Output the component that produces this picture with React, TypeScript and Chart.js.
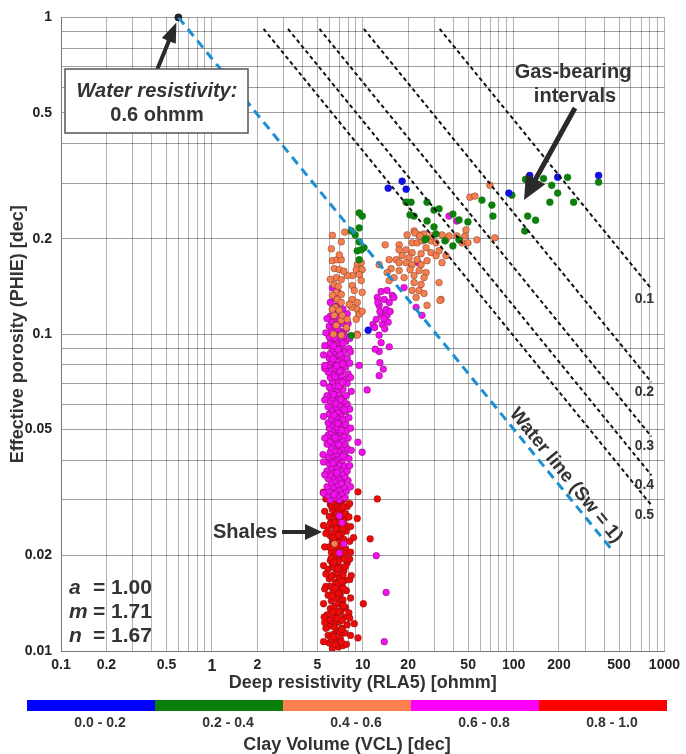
import { useEffect, useRef } from "react";
import { Chart, registerables } from "chart.js";

Chart.register(...registerables);

const FONT = "'Liberation Sans', Arial, Helvetica, sans-serif";

// Axis ticks
const xTickValues = [0.1, 0.2, 0.3, 0.4, 0.5, 0.6, 0.7, 0.8, 0.9, 1, 2, 3, 4, 5, 6, 7, 8, 9, 10, 20, 30, 40, 50, 60, 70, 80, 90, 100, 200, 300, 400, 500, 600, 700, 800, 900, 1000];
const xTickLabels = ["0.1", "0.2", "0.5", "1", "2", "5", "10", "20", "50", "100", "200", "500", "1000"];
const yTickValues = [0.01, 0.02, 0.03, 0.04, 0.05, 0.06, 0.07, 0.08, 0.09, 0.1, 0.2, 0.3, 0.4, 0.5, 0.6, 0.7, 0.8, 0.9, 1];
const yTickLabels = ["0.01", "0.02", "0.05", "0.1", "0.2", "0.5", "1"];

// Clay volume classes
const vclClasses = ["0.0 - 0.2", "0.2 - 0.4", "0.4 - 0.6", "0.6 - 0.8", "0.8 - 1.0"];
const vclColors = ["#0000ff", "#0a7d0a", "#ff7f50", "#ff00ff", "#ff0000"];
const pointColors = ["#1010e0", "#0d7f0d", "#f5804f", "#f010f0", "#ee0a0a"];

// Archie parameters
const archieA = 1.0;
const archieM = 1.71;
const archieN = 1.67;
const waterResistivity = 0.6;

// Pickett lines (endpoints: [Rt, PHIE])
const waterLine: [number, number][] = [[0.6, 1.0], [443.8, 0.021]];
const swValues = ["0.1", "0.2", "0.3", "0.4", "0.5"];
const swLines: [number, number][][] = [
  [[32.36, 0.92], [820, 0.139]],
  [[10.17, 0.92], [820, 0.0706]],
  [[5.168, 0.92], [820, 0.04752]],
  [[3.196, 0.92], [820, 0.03587]],
  [[2.202, 0.92], [820, 0.02885]],
];

// Data points [Deep resistivity RLA5, PHIE]
const bluePts: [number, number][] = [
  [18.25, 0.304], [14.75, 0.289], [19.4, 0.287], [10.87, 0.1029], [128, 0.317], [196, 0.313], [366, 0.317], [93, 0.279],
];

const greenPts: [number, number][] = [
  [9.48, 0.2413], [9.93, 0.236], [9.48, 0.2165], [8.39, 0.2118], [8.92, 0.2058], [9.48, 0.1957], [9.2, 0.1833],
  [9.78, 0.1847], [10.2, 0.1875], [9.48, 0.1718], [8.4, 0.099],
  [19.4, 0.261], [20.9, 0.261], [21.9, 0.236], [20.6, 0.238], [26.7, 0.261], [29.7, 0.2465], [32.1, 0.2488],
  [26.7, 0.2277], [29.7, 0.2181], [30.6, 0.2073], [26.3, 0.2], [39.6, 0.19], [39.6, 0.2395], [43.5, 0.2295],
  [49.8, 0.2261], [43.5, 0.1985], [35.1, 0.1971], [25.9, 0.1985], [61.7, 0.265], [71.8, 0.2556], [72.9, 0.236],
  [97.4, 0.2747], [118.7, 0.2118], [124, 0.236], [140, 0.229], [120, 0.308], [158, 0.31], [179, 0.295],
  [196, 0.279], [174, 0.261], [228, 0.3127], [250, 0.261], [366, 0.302],
];

const orangePts: [number, number][] = [
  [14.09, 0.1915], [17.43, 0.1915], [19.69, 0.2058], [21.9, 0.2118], [23.64, 0.2058], [25.51, 0.2073], [17.43, 0.1847],
  [19.39, 0.1847], [21.25, 0.1943], [22.93, 0.1943], [24.74, 0.1971], [28.38, 0.1971], [21.25, 0.1808], [24.37, 0.1795],
  [22.93, 0.1719], [20.3, 0.1744], [18.25, 0.1769], [16.66, 0.1719], [14.97, 0.1719], [17.43, 0.1682], [19.39, 0.1682],
  [21.25, 0.1658], [24.37, 0.1658], [26.7, 0.1706], [28.38, 0.1808], [30.62, 0.1769], [32.06, 0.1834], [35.66, 0.1985],
  [33.55, 0.1682], [15.43, 0.1611], [17.43, 0.1588], [20.61, 0.1599], [23.64, 0.1588], [26.3, 0.1565], [12.86, 0.1658],
  [14.52, 0.1565], [16.16, 0.1509], [14.97, 0.1477], [18.81, 0.1509], [21.9, 0.1531], [25.51, 0.1509], [21.9, 0.1455],
  [24.37, 0.1435], [21.25, 0.1374], [23.64, 0.1374], [25.51, 0.1345], [22.58, 0.1306], [32.06, 0.1455], [33.04, 0.1287],
  [30.62, 0.1943], [28.81, 0.2043], [26.3, 0.1874], [35.66, 0.1769], [26.7, 0.1233], [32.55, 0.1278], [51.37, 0.2708],
  [55.44, 0.2728], [69.66, 0.2953], [22.24, 0.2088], [24.0, 0.2043], [33.55, 0.2058], [37.33, 0.2043], [47.62, 0.2043],
  [45.5, 0.1943], [57.15, 0.1985], [75.16, 0.2014], [48.35, 0.2134], [42.15, 0.2043], [49.84, 0.1943],
  [6.29, 0.1706], [6.78, 0.1719], [7.21, 0.1719], [6.48, 0.1611], [6.99, 0.1599], [6.68, 0.1509], [7.21, 0.1487],
  [6.48, 0.1435], [6.89, 0.1414], [6.68, 0.1355], [7.21, 0.1335], [6.29, 0.1326], [6.78, 0.1287], [7.21, 0.126],
  [6.58, 0.1216], [6.99, 0.1189], [6.48, 0.1147], [7.21, 0.1106], [6.68, 0.1067], [7.21, 0.1957], [6.29, 0.1198],
  [7.32, 0.1147], [9.2, 0.1658], [9.77, 0.1682], [9.06, 0.1599], [9.92, 0.1599], [9.48, 0.1542], [8.52, 0.1531],
  [7.9, 0.1531], [9.77, 0.1477], [8.52, 0.1424], [9.92, 0.1355], [8.79, 0.1374], [8.52, 0.1287], [9.2, 0.126],
  [8.52, 0.1216], [9.2, 0.1198], [8.14, 0.1242], [9.48, 0.1156], [9.06, 0.1114], [9.2, 0.1], [7.9, 0.1114],
  [9.92, 0.1181], [7.21, 0.0993], [9.2, 0.0993], [6.3, 0.205], [7.6, 0.21], [6.2, 0.186], [7.0, 0.178], [6.4, 0.1],
  [7.8, 0.105], [6.1, 0.149], [7.5, 0.158], [6.5, 0.0218],
];

const magentaPts: [number, number][] = [
  [6.1, 0.03], [7.0, 0.03], [6.6, 0.0305], [7.6, 0.0305], [5.9, 0.031], [6.8, 0.031], [7.3, 0.0315], [6.3, 0.0315],
  [6.0, 0.032], [7.8, 0.032], [6.7, 0.032], [7.1, 0.0325], [6.4, 0.033], [5.8, 0.033], [7.5, 0.033], [6.9, 0.0335],
  [6.2, 0.034], [7.3, 0.034], [6.6, 0.0345], [8.0, 0.0345], [5.9, 0.035], [7.0, 0.035], [6.4, 0.0355], [7.6, 0.0355],
  [6.8, 0.036], [6.1, 0.036], [7.3, 0.0365], [5.8, 0.037], [6.5, 0.037], [7.9, 0.037], [7.1, 0.0375], [6.2, 0.038],
  [6.8, 0.038], [7.5, 0.0385], [6.0, 0.039], [7.0, 0.039], [6.5, 0.0395], [7.3, 0.04], [6.2, 0.04], [6.8, 0.0405],
  [8.1, 0.0405], [5.9, 0.041], [7.1, 0.041], [6.4, 0.0415], [7.6, 0.042], [6.7, 0.042], [6.1, 0.0425], [7.0, 0.043],
  [6.5, 0.043], [7.9, 0.0435], [6.2, 0.044], [7.3, 0.044], [6.8, 0.0445], [5.8, 0.045], [7.6, 0.045], [6.4, 0.0455],
  [7.0, 0.0455], [6.1, 0.046], [7.3, 0.0465], [6.7, 0.0465], [8.0, 0.047], [6.3, 0.0475], [6.9, 0.0475], [5.9, 0.048],
  [7.5, 0.048], [6.6, 0.0485], [7.1, 0.049], [6.2, 0.049], [7.8, 0.0495], [6.5, 0.05], [6.9, 0.05], [6.0, 0.0505],
  [7.3, 0.051], [6.7, 0.051], [6.3, 0.052], [7.7, 0.052], [5.9, 0.0525], [7.0, 0.053], [6.6, 0.053], [6.2, 0.054],
  [7.4, 0.054], [8.1, 0.0545], [6.8, 0.055], [6.0, 0.056], [7.2, 0.056], [6.5, 0.0565], [7.7, 0.057], [6.9, 0.057],
  [6.2, 0.058], [7.3, 0.0585], [5.9, 0.059], [6.7, 0.059], [7.0, 0.06], [7.9, 0.06], [6.4, 0.061], [6.1, 0.0615],
  [7.5, 0.0615], [6.8, 0.062], [7.2, 0.063], [6.3, 0.063], [5.8, 0.064], [7.8, 0.064], [6.6, 0.065], [7.0, 0.065],
  [6.2, 0.066], [7.4, 0.067], [6.8, 0.067], [6.0, 0.068], [7.1, 0.069], [6.5, 0.069], [7.9, 0.07], [6.3, 0.071],
  [6.9, 0.071], [7.5, 0.072], [6.1, 0.073], [6.7, 0.073], [7.2, 0.074], [6.4, 0.075], [8.0, 0.075], [5.9, 0.076],
  [6.9, 0.076], [7.3, 0.077], [6.2, 0.078], [6.6, 0.078], [7.7, 0.079], [6.0, 0.08], [7.0, 0.08], [6.5, 0.081],
  [7.4, 0.082], [6.2, 0.082], [6.8, 0.083], [7.9, 0.084], [6.0, 0.084], [6.5, 0.085], [7.2, 0.085], [6.8, 0.086],
  [6.1, 0.087], [7.5, 0.088], [6.6, 0.088], [7.0, 0.089], [6.3, 0.09], [8.1, 0.09], [6.8, 0.091], [5.9, 0.092],
  [7.3, 0.092], [6.5, 0.093], [7.0, 0.094], [6.1, 0.094], [7.7, 0.095], [6.7, 0.096], [6.3, 0.097], [7.2, 0.097],
  [6.0, 0.098], [6.9, 0.099], [7.6, 0.099], [6.5, 0.1], [6.2, 0.102], [7.1, 0.102], [6.8, 0.104], [7.8, 0.104],
  [6.0, 0.106], [6.5, 0.106], [7.3, 0.108], [6.2, 0.11], [6.9, 0.11], [7.6, 0.112], [6.5, 0.114], [6.1, 0.114],
  [7.1, 0.116], [6.8, 0.118], [6.3, 0.12], [7.4, 0.12], [6.7, 0.123], [6.1, 0.126], [7.0, 0.126], [6.5, 0.13],
  [6.9, 0.135], [6.3, 0.14],
  [5.5, 0.0315], [8.3, 0.033], [5.6, 0.036], [8.2, 0.0385], [5.5, 0.0395], [8.4, 0.043], [5.6, 0.047], [8.3, 0.0505],
  [5.5, 0.055], [8.2, 0.058], [5.6, 0.062], [8.4, 0.066], [5.5, 0.07], [8.3, 0.073], [5.6, 0.078], [8.2, 0.081],
  [5.5, 0.086], [8.3, 0.088], [5.6, 0.092], [8.2, 0.097], [5.7, 0.101], [8.0, 0.108], [5.8, 0.112], [7.9, 0.116],
  [6.45, 0.0312], [7.2, 0.0338], [6.75, 0.0365], [6.35, 0.0392], [7.45, 0.0412], [6.95, 0.0448], [6.55, 0.0472],
  [7.25, 0.0498], [6.85, 0.0522], [6.45, 0.0555], [7.55, 0.0578], [6.65, 0.0605], [7.15, 0.0622], [6.4, 0.0645],
  [6.95, 0.0685], [7.35, 0.0705], [6.55, 0.0735], [7.05, 0.0765], [6.75, 0.0795], [7.35, 0.0805], [6.35, 0.0835],
  [7.05, 0.0865], [6.85, 0.0895], [6.4, 0.0918], [7.4, 0.0935], [6.55, 0.0975], [7.25, 0.1005], [6.7, 0.107],
  [7.0, 0.113], [6.6, 0.121],
  [5.6, 0.0797], [5.46, 0.0417], [9.48, 0.0797], [9.3, 0.0456], [9.92, 0.0424], [10.7, 0.0667], [15.0, 0.0912],
  [13.25, 0.094], [12.86, 0.0882], [13.0, 0.0813], [13.7, 0.0776], [12.86, 0.074],
  [13.25, 0.1364], [14.5, 0.1374], [15.7, 0.1325], [12.5, 0.1306], [13.9, 0.1288], [12.85, 0.1233], [15.0, 0.126],
  [14.3, 0.1197], [13.25, 0.1155], [12.3, 0.1114], [14.5, 0.1147], [13.5, 0.1074], [11.7, 0.1074], [12.85, 0.0993],
  [14.75, 0.1091], [16.1, 0.1306], [18.8, 0.1403], [22.6, 0.1216], [24.7, 0.1147], [23.3, 0.168], [12.1, 0.0897],
  [13.0, 0.118], [14.0, 0.104], [12.0, 0.105], [15.2, 0.118], [13.8, 0.112], [12.6, 0.126],
  [37.3, 0.236], [42, 0.2277],
  [7.3, 0.0254], [7.5, 0.0218], [7.0, 0.0204], [7.0, 0.0267], [12.3, 0.02], [14.3, 0.0153], [13.9, 0.0107],
];

const redPts: [number, number][] = [
  [6.3, 0.0102], [6.9, 0.0103], [7.4, 0.0104], [6.0, 0.0106], [7.8, 0.0105], [6.6, 0.0108], [7.1, 0.011], [5.9, 0.0112],
  [6.4, 0.0113], [7.6, 0.0114], [6.8, 0.0116], [7.3, 0.0118], [6.1, 0.012], [6.6, 0.0122], [7.9, 0.0121], [7.0, 0.0124],
  [6.3, 0.0127], [7.5, 0.0128], [5.8, 0.013], [6.8, 0.0131], [7.2, 0.0134], [6.1, 0.0136], [6.5, 0.0138], [7.7, 0.0137],
  [6.9, 0.0141], [6.2, 0.0144], [7.4, 0.0145], [6.7, 0.0147], [5.9, 0.015], [7.1, 0.0151], [6.4, 0.0154], [7.8, 0.0155],
  [6.9, 0.0158], [6.1, 0.016], [7.3, 0.0162], [6.6, 0.0165], [7.6, 0.0167], [6.0, 0.0169], [7.0, 0.0171], [6.4, 0.0174],
  [6.8, 0.0177], [7.5, 0.0179], [5.9, 0.0181], [7.2, 0.0184], [6.3, 0.0186], [6.7, 0.0189], [7.9, 0.019], [6.1, 0.0193],
  [7.0, 0.0196], [6.5, 0.0199], [7.4, 0.0201], [6.2, 0.0205], [6.9, 0.0208], [7.7, 0.021], [6.0, 0.0213], [6.6, 0.0216],
  [7.2, 0.0219], [6.3, 0.0222], [7.5, 0.0225], [6.8, 0.0228], [6.1, 0.0231], [7.1, 0.0234], [6.5, 0.0237], [7.8, 0.0239],
  [5.9, 0.0242], [6.9, 0.0245], [6.4, 0.0249], [7.3, 0.0252], [6.2, 0.0256], [6.7, 0.0259], [7.6, 0.0262], [6.0, 0.0266],
  [7.0, 0.0269], [6.5, 0.0273], [7.4, 0.0276], [6.3, 0.028], [6.8, 0.0284], [7.9, 0.0286], [6.1, 0.029], [7.2, 0.0293],
  [6.6, 0.0297], [7.5, 0.0301], [6.4, 0.0305], [6.9, 0.0309], [7.1, 0.0314], [6.2, 0.0318],
  [6.6, 0.0105], [7.2, 0.0107], [6.2, 0.0109], [7.0, 0.0115], [6.5, 0.0119], [7.3, 0.0125], [6.0, 0.0125], [6.9, 0.0133],
  [7.3, 0.014], [6.3, 0.0149], [7.5, 0.0157], [6.8, 0.0163], [6.2, 0.0172], [7.4, 0.0173], [6.5, 0.0183], [7.7, 0.0185],
  [6.9, 0.0192], [6.2, 0.0197], [7.6, 0.0203], [6.7, 0.0211], [7.0, 0.022], [6.4, 0.0228], [7.3, 0.0236], [6.7, 0.0243],
  [7.6, 0.025], [6.1, 0.0253], [7.1, 0.0261], [6.6, 0.0267], [7.7, 0.0271], [6.9, 0.0277], [6.2, 0.0287], [7.0, 0.0299],
  [6.6, 0.031], [7.3, 0.032], [5.7, 0.0118], [8.1, 0.0132], [5.7, 0.0175], [8.2, 0.0195], [5.7, 0.0235], [8.1, 0.0265],
  [5.5, 0.0107], [8.3, 0.0112], [5.6, 0.0123], [8.2, 0.0127], [5.5, 0.0141], [8.3, 0.0147], [5.7, 0.016], [8.2, 0.0168],
  [5.5, 0.0186], [8.3, 0.0205], [5.6, 0.0213], [8.2, 0.0222], [5.5, 0.0249], [8.3, 0.0247], [5.6, 0.0276], [8.2, 0.0292],
  [5.7, 0.0302],
  [6.45, 0.0111], [7.25, 0.0117], [6.75, 0.0127], [6.35, 0.0133], [7.45, 0.0139], [6.95, 0.0152], [6.55, 0.0158],
  [7.25, 0.0166], [6.85, 0.0182], [6.45, 0.0191], [7.55, 0.0195], [6.65, 0.0204], [7.15, 0.0214], [6.4, 0.0218],
  [6.95, 0.0232], [7.35, 0.0244], [6.55, 0.0255], [7.05, 0.0256], [6.75, 0.0271], [7.35, 0.0285], [6.35, 0.0295],
  [7.05, 0.0312],
  [9.3, 0.0318], [12.5, 0.0302], [9.2, 0.0262], [11.2, 0.0226], [8.7, 0.0228], [10.1, 0.0141], [9.3, 0.011], [8.8, 0.0122],
  [8.4, 0.0173], [5.48, 0.0317], [5.6, 0.0157], [5.55, 0.0128],
];

const classPoints = [bluePts, greenPts, orangePts, magentaPts, redPts];

function drawArrow(ctx: CanvasRenderingContext2D, x1: number, y1: number, x2: number, y2: number, shaftW: number, headLen: number, headW: number) {
  const ang = Math.atan2(y2 - y1, x2 - x1);
  const L = Math.hypot(x2 - x1, y2 - y1);
  ctx.save();
  ctx.translate(x2, y2);
  ctx.rotate(ang);
  ctx.beginPath();
  ctx.moveTo(-L, -shaftW / 2);
  ctx.lineTo(-headLen, -shaftW / 2);
  ctx.lineTo(-headLen, -headW / 2);
  ctx.lineTo(0, 0);
  ctx.lineTo(-headLen, headW / 2);
  ctx.lineTo(-headLen, shaftW / 2);
  ctx.lineTo(-L, shaftW / 2);
  ctx.closePath();
  ctx.fill();
  ctx.restore();
}

const annotationPlugin = {
  id: "pickettAnnotations",
  afterDatasetsDraw(chart: any) {
    const ctx: CanvasRenderingContext2D = chart.ctx;
    const xs = chart.scales.x;
    const ys = chart.scales.y;
    const area = chart.chartArea;
    ctx.save();

    // Rw arrow and text box
    const dotX = xs.getPixelForValue(waterLine[0][0]);
    const dotY = ys.getPixelForValue(waterLine[0][1]);
    ctx.fillStyle = "#2a2a2a";
    drawArrow(ctx, 157, 70, dotX - 2, dotY + 5, 4, 20, 15);
    ctx.fillStyle = "#ffffff";
    ctx.fillRect(65, 69, 183, 64);
    ctx.strokeStyle = "#555";
    ctx.lineWidth = 1.5;
    ctx.strokeRect(65, 69, 183, 64);
    ctx.fillStyle = "#333";
    ctx.textAlign = "center";
    ctx.textBaseline = "middle";
    ctx.font = `italic bold 20px ${FONT}`;
    ctx.fillText("Water resistivity:", 157, 91);
    ctx.font = `bold 20px ${FONT}`;
    ctx.fillText(`${waterResistivity} ohmm`, 157, 115);

    // Gas-bearing
    ctx.font = `bold 20px ${FONT}`;
    ctx.fillText("Gas-bearing", 573, 72);
    ctx.fillText("intervals", 575, 96);
    ctx.fillStyle = "#2a2a2a";
    drawArrow(ctx, 575, 108, 524, 200, 5, 24, 22);

    // Shales
    ctx.fillStyle = "#333";
    ctx.textAlign = "left";
    ctx.font = `bold 20px ${FONT}`;
    ctx.fillText("Shales", 213, 532);
    ctx.fillStyle = "#2a2a2a";
    drawArrow(ctx, 282, 532, 322, 532, 4, 17, 16);

    // Archie parameters
    ctx.fillStyle = "#333";
    ctx.textBaseline = "alphabetic";
    const params: [string, number][] = [["a", archieA], ["m", archieM], ["n", archieN]];
    params.forEach(([k, v], i) => {
      const by = 594 + i * 24;
      ctx.font = `italic bold 21px ${FONT}`;
      ctx.fillText(k, 69, by);
      ctx.font = `bold 21px ${FONT}`;
      ctx.fillText(`= ${v.toFixed(2)}`, 93, by);
    });

    // Sw labels
    ctx.font = `bold 14px ${FONT}`;
    ctx.textAlign = "center";
    ctx.textBaseline = "middle";
    swLines.forEach((ln, i) => {
      const ex = xs.getPixelForValue(ln[1][0]);
      const ey = ys.getPixelForValue(ln[1][1]);
      ctx.fillText(swValues[i], ex - 7, ey + 10);
    });

    // Water line label
    const p0x = xs.getPixelForValue(waterLine[0][0]);
    const p0y = ys.getPixelForValue(waterLine[0][1]);
    const p1x = xs.getPixelForValue(waterLine[1][0]);
    const p1y = ys.getPixelForValue(waterLine[1][1]);
    const ang = Math.atan2(p1y - p0y, p1x - p0x);
    const lx = xs.getPixelForValue(194.6);
    const ly = ys.getPixelForValue(0.034);
    ctx.save();
    ctx.translate(lx, ly);
    ctx.rotate(ang);
    ctx.font = `bold 19px ${FONT}`;
    ctx.textAlign = "center";
    ctx.textBaseline = "alphabetic";
    ctx.fillText("Water line (Sw = 1)", 0, -6);
    ctx.restore();

    // Axis titles
    ctx.fillStyle = "#333";
    ctx.font = `bold 18px ${FONT}`;
    ctx.textAlign = "center";
    ctx.textBaseline = "middle";
    ctx.fillText("Deep resistivity (RLA5) [ohmm]", (area.left + area.right) / 2, 683);
    ctx.save();
    ctx.translate(18, (area.top + area.bottom) / 2);
    ctx.rotate(-Math.PI / 2);
    ctx.fillText("Effective porosity (PHIE) [dec]", 0, 0);
    ctx.restore();

    // Colour legend bar
    const barL = 27;
    const segW = 128;
    vclColors.forEach((c, i) => {
      ctx.fillStyle = c;
      ctx.fillRect(barL + i * segW, 700, segW, 11);
    });
    ctx.fillStyle = "#333";
    ctx.font = `bold 14px ${FONT}`;
    vclClasses.forEach((lab, i) => {
      ctx.fillText(lab, barL + i * segW + segW / 2 + 9, 723);
    });
    ctx.font = `bold 18px ${FONT}`;
    ctx.fillText("Clay Volume (VCL) [dec]", 347, 745);

    ctx.restore();
  },
};

export default function App() {
  const canvasRef = useRef<HTMLCanvasElement | null>(null);

  useEffect(() => {
    const canvas = canvasRef.current;
    if (!canvas) return;

    const lineDatasets: any[] = [
      {
        label: "Water line",
        data: waterLine.map(([x, y]) => ({ x, y })),
        showLine: true,
        borderColor: "#1b8fd2",
        borderWidth: 3,
        borderDash: [9, 6],
        pointRadius: 0,
        fill: false,
      },
      ...swLines.map((ln, i) => ({
        label: `Sw ${swValues[i]}`,
        data: ln.map(([x, y]) => ({ x, y })),
        showLine: true,
        borderColor: "#111",
        borderWidth: 2,
        borderDash: [4, 3],
        pointRadius: 0,
        fill: false,
      })),
      {
        label: "Rw point",
        data: [{ x: waterLine[0][0], y: waterLine[0][1] }],
        pointRadius: 3.5,
        backgroundColor: "#222",
        borderColor: "#222",
        clip: false,
      },
    ];

    const pointDatasets = classPoints.map((pts, i) => ({
      label: vclClasses[i],
      data: pts.map(([x, y]) => ({ x, y })),
      pointRadius: 3.4,
      backgroundColor: pointColors[i],
      borderColor: i < 2 ? pointColors[i] : "rgba(70,10,10,0.55)",
      borderWidth: 0.6,
    }));

    const chart = new Chart(canvas, {
      type: "scatter",
      data: { datasets: [...lineDatasets, ...pointDatasets] },
      options: {
        animation: false,
        responsive: false,
        maintainAspectRatio: false,
        layout: { padding: { top: 13, right: 20, left: 0, bottom: 0 } },
        plugins: { legend: { display: false }, tooltip: { enabled: false } },
        scales: {
          x: {
            type: "logarithmic",
            position: "bottom",
            min: 0.1,
            max: 1000,
            afterBuildTicks: (s: any) => {
              s.ticks = xTickValues.map((v) => ({ value: v }));
            },
            afterFit: (s: any) => {
              s.height = 103;
            },
            grid: { color: "rgba(0,0,0,0.3)", drawTicks: false, lineWidth: 1 },
            border: { display: true, color: "#777", width: 1 },
            ticks: {
              autoSkip: false,
              maxRotation: 0,
              padding: 6,
              color: "#222",
              font: (c: any) => ({ family: FONT, weight: "bold", size: c.tick && c.tick.value === 1 ? 16 : 14 }),
              callback: (v: any) => (xTickLabels.includes(String(v)) ? String(v) : ""),
            },
          },
          y: {
            type: "logarithmic",
            position: "left",
            min: 0.01,
            max: 1,
            afterBuildTicks: (s: any) => {
              s.ticks = yTickValues.map((v) => ({ value: v }));
            },
            afterFit: (s: any) => {
              s.width = 61;
            },
            grid: { color: "rgba(0,0,0,0.38)", drawTicks: false, lineWidth: 1 },
            border: { display: true, color: "#777", width: 1 },
            ticks: {
              autoSkip: false,
              padding: 9,
              color: "#222",
              font: { family: FONT, weight: "bold", size: 14 },
              callback: (v: any) => (yTickLabels.includes(String(v)) ? String(v) : ""),
            },
          },
        },
      } as any,
      plugins: [annotationPlugin],
    });

    return () => chart.destroy();
  }, []);

  return (
    <div style={{ position: "absolute", left: 0, top: 0, width: 686, height: 754, background: "#fff" }}>
      <canvas ref={canvasRef} width={686} height={754} style={{ width: 686, height: 754, display: "block" }} />
    </div>
  );
}
